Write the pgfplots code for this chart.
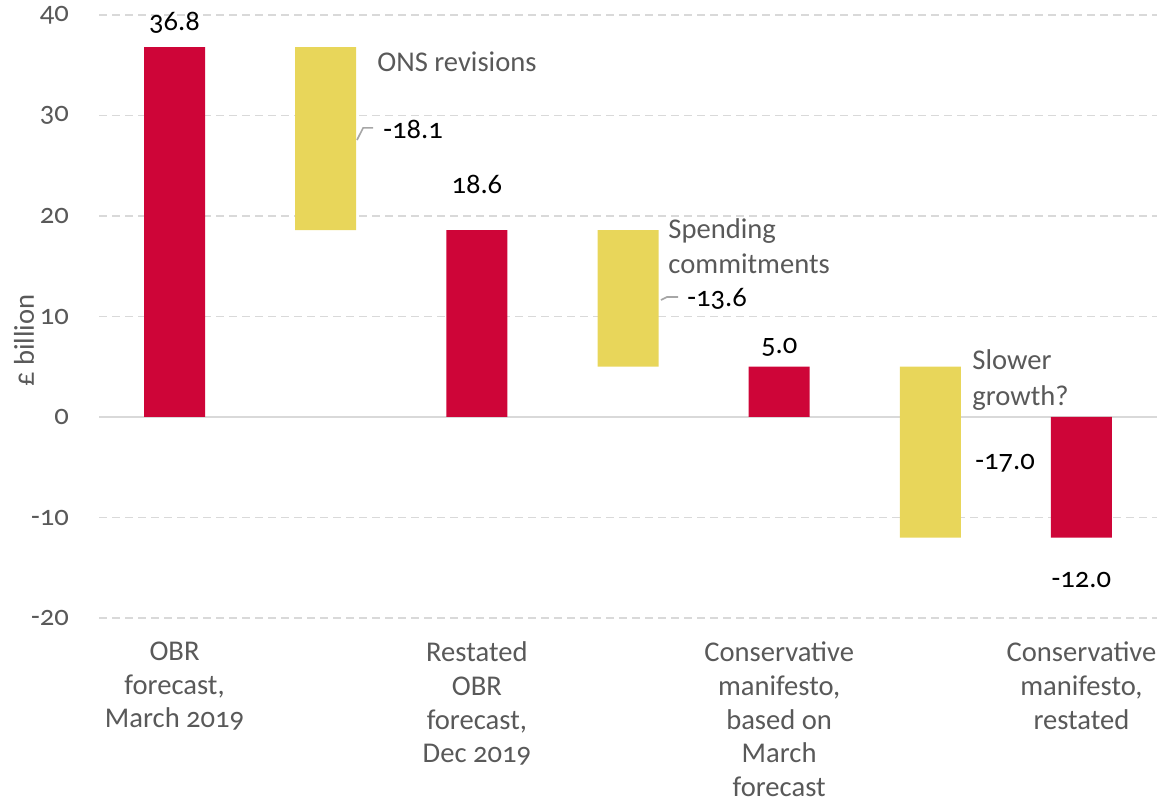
\documentclass[border=0pt]{standalone}
\usepackage{pgfplots}
\pgfplotsset{compat=1.18}
\usepackage{fontspec}
\setmainfont{Carlito}[Numbers=OldStyle]
\definecolor{obrred}{HTML}{CE0538}
\definecolor{obryel}{HTML}{E8D65A}
\definecolor{txtgray}{HTML}{595959}
\definecolor{gridgray}{HTML}{D9D9D9}
\newcommand{\lbl}{\fontsize{14.3}{16.8}\selectfont}
\begin{document}
\begin{tikzpicture}
\begin{axis}[
  scale only axis, width=529pt, height=301.5pt,
  xmin=-0.5, xmax=6.5, ymin=-20, ymax=40,
  ybar stacked, stack negative=on previous, bar width=30.5pt,
  axis line style={draw=none}, tick style={draw=none},
  ytick={-20,-10,10,20,30,40},
  extra y ticks={0},
  extra y tick style={grid style={solid, gridgray, line width=1pt}},
  ymajorgrids,
  grid style={gridgray, line width=0.75pt, dash pattern=on 4pt off 2.5pt},
  xtick={0,2,4,6},
  xticklabels={{OBR\\forecast,\\March 2019},{Restated\\OBR\\forecast,\\Dec 2019},{Conservative\\manifesto,\\based on\\March\\forecast},{Conservative\\manifesto,\\restated}},
  xticklabel style={align=center, font=\lbl, text=txtgray, anchor=north, yshift=-8.5pt},
  yticklabel style={font=\lbl, text=txtgray, anchor=east, xshift=-11.5pt},
  /pgf/number format/assume math mode=true,
  ylabel={£ billion},
  ylabel style={at={(axis description cs:-0.0709,0.46)}, anchor=center, font=\lbl, text=txtgray},
  clip=false,
]
% invisible base
\addplot[draw=none, fill=none] coordinates {(0,0) (1,18.6) (2,0) (3,5.0) (4,0) (5,-12.0) (6,0)};
% totals (red)
\addplot[draw=none, fill=obrred] coordinates {(0,36.8) (1,0) (2,18.6) (3,0) (4,5.0) (5,0) (6,-12.0)};
% changes (yellow)
\addplot[draw=none, fill=obryel] coordinates {(0,0) (1,18.2) (2,0) (3,13.6) (4,0) (5,17.0) (6,0)};

% value labels
\node[anchor=base, font=\lbl, inner sep=0pt] at (axis cs:0,38.5) {36.8};
\node[anchor=base, font=\lbl, inner sep=0pt] at (axis cs:2,22.2) {18.6};
\node[anchor=base, font=\lbl, inner sep=0pt] at (axis cs:4,6.27) {5.0};
\node[anchor=base, font=\lbl, inner sep=0pt] at (axis cs:6,-17.0) {-12.0};
\node[anchor=base west, font=\lbl, inner sep=0pt] at (axis cs:1.379,27.7) {-18.1};
\node[anchor=base west, font=\lbl, inner sep=0pt] at (axis cs:3.39,10.95) {-13.6};
\node[anchor=base west, font=\lbl, inner sep=0pt] at (axis cs:5.296,-5.27) {-17.0};
% annotations
\node[anchor=base west, font=\lbl, text=txtgray, inner sep=0pt] at (axis cs:1.339,34.4) {ONS revisions};
\node[anchor=base west, font=\lbl, text=txtgray, inner sep=0pt] at (axis cs:3.265,17.8) {Spending};
\node[anchor=base west, font=\lbl, text=txtgray, inner sep=0pt] at (axis cs:3.265,14.3) {commitments};
\node[anchor=base west, font=\lbl, text=txtgray, inner sep=0pt] at (axis cs:5.276,4.68) {Slower};
\node[anchor=base west, font=\lbl, text=txtgray, inner sep=0pt] at (axis cs:5.276,1.19) {growth?};
% leader lines
\draw[gray!70, line width=0.8pt] (axis cs:1.207,27.56) -- (axis cs:1.247,28.76) -- (axis cs:1.313,28.76);
\draw[gray!70, line width=0.8pt] (axis cs:3.218,11.64) -- (axis cs:3.258,11.94) -- (axis cs:3.331,11.94);
\end{axis}
\pgfresetboundingbox
\path[use as bounding box] ([shift={(-49.5pt,-92pt)}]current axis.south west) rectangle ([shift={(0pt,7.5pt)}]current axis.north east);
\end{tikzpicture}
\end{document}
